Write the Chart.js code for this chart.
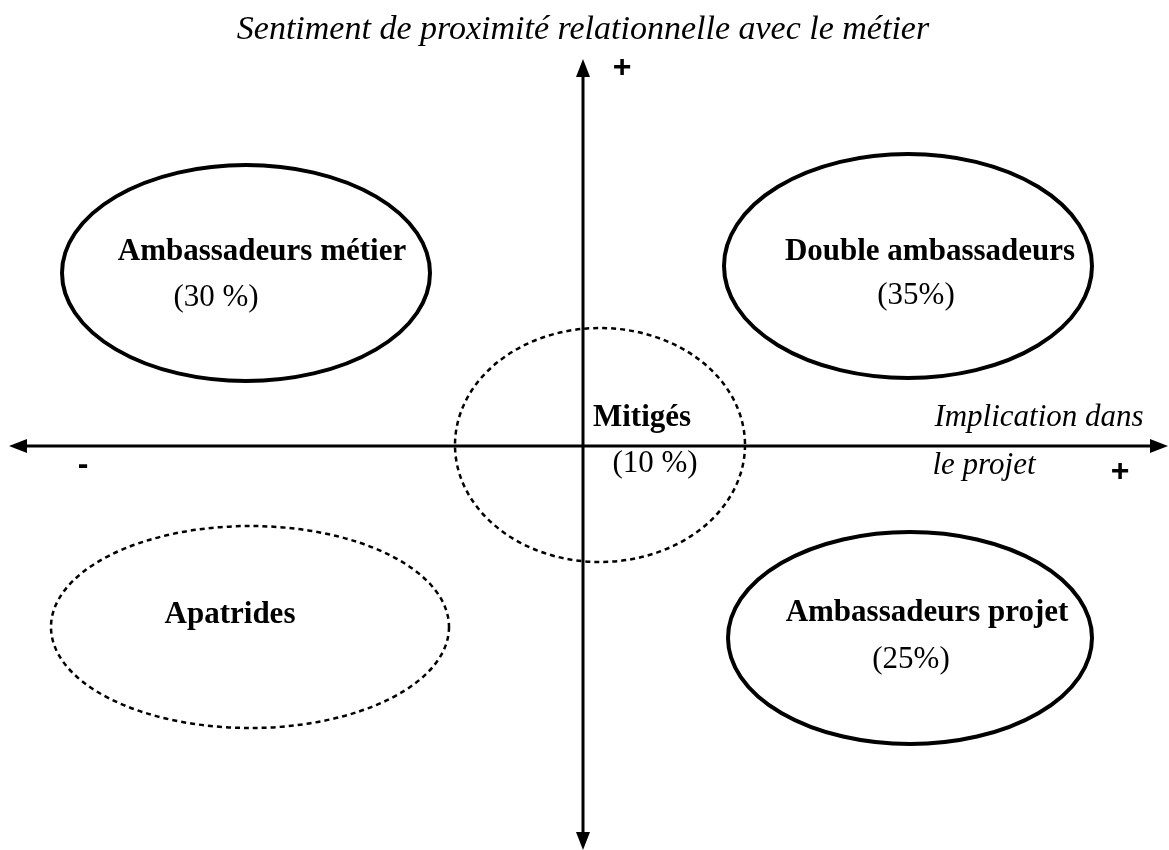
<!DOCTYPE html>
<html lang="fr">
<head>
<meta charset="utf-8">
<title>Typologie</title>
<script src="https://cdn.jsdelivr.net/npm/chart.js@4.4.1/dist/chart.umd.min.js"></script>
<style>
    body { margin: 0; background: #fff; }
    #wrap { width: 1169px; height: 850px; }
</style>
</head>
<body>
<div id="wrap"><canvas id="myChart" width="1169" height="850"></canvas></div>
<script>
// axes : implication (x) / proximité (y), origine au croisement
const xRange = [-583, 586];
const yRange = [-404, 446];
const xAxisEnds = [-574, 585];
const yAxisEnds = [-404, 387];

// groupes (centre, demi-axes, libellé, part)
const groupNames = ['Ambassadeurs métier', 'Double ambassadeurs', 'Mitigés', 'Apatrides', 'Ambassadeurs projet'];
const groupShares = ['(30 %)', '(35%)', '(10 %)', '', '(25%)'];
const groupX = [-337, 325, 17, -333, 327];
const groupY = [173, 180, 1, -181, -192];
const groupRx = [184, 184, 145, 199, 182];
const groupRy = [108, 112, 117, 101, 106];
const groupDotted = [false, false, true, true, false];
// position des textes
const nameX = [-321, 347, 59, -353, 344];
const nameY = [194, 194, 28, -169, -167];
const shareX = [-367, 333, 72, 0, 328];
const shareY = [148, 150, -18, 0, -214];

const titleText = 'Sentiment de proximité relationnelle avec le métier';
const xAxisTitle = ['Implication dans', 'le projet'];

function arrowHead(ctx, x, y, dx, dy) {
    var len = 18, half = 7;
    ctx.beginPath();
    ctx.moveTo(x, y);
    ctx.lineTo(x - dx * len - dy * half, y - dy * len + dx * half);
    ctx.lineTo(x - dx * len + dy * half, y - dy * len - dx * half);
    ctx.closePath();
    ctx.fill();
}

const diagramPlugin = {
    id: 'diagram',
    afterDatasetsDraw(chart) {
        const ctx = chart.ctx;
        const xs = chart.scales.x;
        const ys = chart.scales.y;
        const px = v => xs.getPixelForValue(v);
        const py = v => ys.getPixelForValue(v);
        ctx.save();
        ctx.strokeStyle = '#000';
        ctx.fillStyle = '#000';

        // axes
        ctx.lineWidth = 3;
        ctx.beginPath();
        ctx.moveTo(px(xAxisEnds[0]) + 10, py(0));
        ctx.lineTo(px(xAxisEnds[1]) - 10, py(0));
        ctx.moveTo(px(0), py(yAxisEnds[0]) - 10);
        ctx.lineTo(px(0), py(yAxisEnds[1]) + 10);
        ctx.stroke();
        arrowHead(ctx, px(xAxisEnds[0]), py(0), -1, 0);
        arrowHead(ctx, px(xAxisEnds[1]), py(0), 1, 0);
        arrowHead(ctx, px(0), py(yAxisEnds[1]), 0, -1);
        arrowHead(ctx, px(0), py(yAxisEnds[0]), 0, 1);

        // ellipses
        for (var i = 0; i < groupNames.length; i++) {
            var cx = px(groupX[i]), cy = py(groupY[i]);
            var rx = Math.abs(px(groupX[i] + groupRx[i]) - cx);
            var ry = Math.abs(py(groupY[i] + groupRy[i]) - cy);
            ctx.beginPath();
            ctx.ellipse(cx, cy, rx, ry, 0, 0, Math.PI * 2);
            if (groupDotted[i]) {
                ctx.lineWidth = 2.5;
                ctx.setLineDash([5, 4]);
            } else {
                ctx.lineWidth = 4;
                ctx.setLineDash([]);
            }
            ctx.stroke();
        }
        ctx.setLineDash([]);

        // textes
        ctx.textAlign = 'center';
        ctx.textBaseline = 'middle';
        ctx.font = 'bold 31px "Liberation Serif", "DejaVu Serif", serif';
        for (var j = 0; j < groupNames.length; j++) {
            ctx.fillText(groupNames[j], px(nameX[j]), py(nameY[j]));
        }
        ctx.font = '31px "Liberation Serif", "DejaVu Serif", serif';
        for (var k = 0; k < groupShares.length; k++) {
            if (groupShares[k]) ctx.fillText(groupShares[k], px(shareX[k]), py(shareY[k]));
        }

        ctx.font = 'italic 31px "Liberation Serif", "DejaVu Serif", serif';
        ctx.fillText(xAxisTitle[0], px(456), py(28));
        ctx.fillText(xAxisTitle[1], px(401), py(-20));
        ctx.font = 'italic 34px "Liberation Serif", "DejaVu Serif", serif';
        ctx.fillText(titleText, px(0), py(416));

        ctx.font = 'bold 32px "Liberation Sans", "DejaVu Sans", sans-serif';
        ctx.fillText('+', px(39), py(378));
        ctx.fillText('+', px(537), py(-26));
        ctx.fillText('-', px(-500), py(-19));
        ctx.restore();
    }
};

function drawDiagram() {
    var ctx = document.getElementById('myChart').getContext('2d');
    new Chart(ctx, {
        type: 'scatter',
        data: {
            datasets: [{
                label: 'groupes',
                data: groupX.map((x, i) => ({ x: x, y: groupY[i] })),
                pointRadius: 0,
                pointHoverRadius: 0
            }]
        },
        plugins: [diagramPlugin],
        options: {
            responsive: false,
            animation: false,
            events: [],
            layout: { padding: 0 },
            scales: {
                x: { type: 'linear', display: false, min: xRange[0], max: xRange[1] },
                y: { type: 'linear', display: false, min: yRange[0], max: yRange[1] }
            },
            plugins: {
                legend: { display: false },
                tooltip: { enabled: false }
            }
        }
    });
}
window.addEventListener('DOMContentLoaded', function () {
    drawDiagram();
});
</script>
</body>
</html>
